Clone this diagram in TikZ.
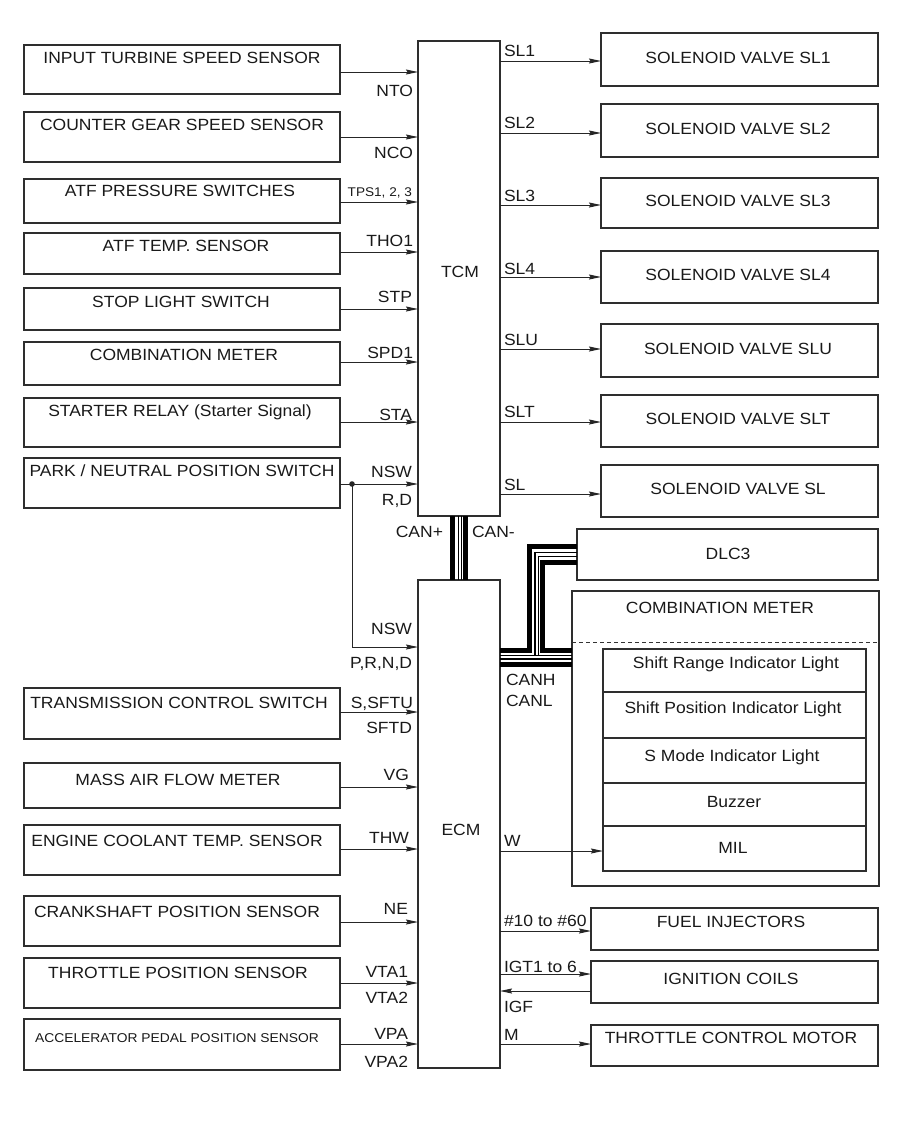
\documentclass[tikz,border=0pt]{standalone}
\usepackage{fontspec}
\setmainfont{Liberation Sans}[FakeStretch=1.08]
\usetikzlibrary{arrows.meta,calc}
% #1 name, #2 top, #3 bottom, #4 text baseline, #5 text x, #6 text, #7 arrow y, #8 target
\newcommand\sensor[8]{%
  \node[box,anchor=north west,minimum width=316pt,minimum height={(#3-#2)*1pt}] (#1) at (24,#2) {};
  \node[txt,anchor=base] (#1t) at (#5,#4) {#6};
  \draw[arr] ([yshift={(#2-#7)*1pt}]#1.north east) coordinate (#1a) -- (#1a -| #8.west);}
% #1 name, #2 left, #3 top, #4 right, #5 bottom
\newcommand\rbox[5]{%
  \node[box,anchor=north west,minimum width={(#4-#2)*1pt},minimum height={(#5-#3)*1pt}] (#1) at (#2,#3) {};}
% output: #1 name, #2 top, #3 bottom, #4 text, #5 arrow y, #6 source
\newcommand\valve[6]{%
  \rbox{#1}{601}{#2}{878}{#3}
  \node[txt] (#1t) at (738,{(#2+#3)/2-2}) {#4};
  \draw[arr] ([yshift={(#2-#5)*1pt}]#1.north west) coordinate (#1a) ++(0,0) (#1a -| #6.east) -- (#1a);}
\begin{document}
\begin{tikzpicture}[x=1pt,y=-1pt,
  font=\fontsize{16.2}{19}\selectfont,
  box/.style={draw=black!82,line width=1.4pt,inner sep=0pt,outer sep=0pt,rectangle,fill=none},
  txt/.style={inner sep=0pt,outer sep=0pt,text=black!90},
  smallf/.style={font=\fontsize{12.6}{14}\selectfont},
  arr/.style={draw=black!85,line width=1pt,-{Stealth[length=12pt,width=5pt,inset=1.5pt]}},
  bthick/.style={line width=5pt,black,line join=miter},
  bthin/.style={line width=1.1pt,black,line join=miter},
]
\path[use as bounding box] (0,0) rectangle (907,1122);

% control units
\rbox{tcm}{418}{41}{500}{516}
\node[txt] (tcmt) at (460,272) {TCM};
\rbox{ecm}{418}{580}{500}{1068}
\node[txt] (ecmt) at (461,830) {ECM};

% TCM inputs
\sensor{in1}{45}{94}{63.5}{182}{INPUT TURBINE SPEED SENSOR}{72}{tcm}
\sensor{in2}{112}{162}{130}{182}{COUNTER GEAR SPEED SENSOR}{137}{tcm}
\sensor{in3}{179}{223}{196}{180}{ATF PRESSURE SWITCHES}{202}{tcm}
\sensor{in4}{233}{274}{251.5}{186}{ATF TEMP. SENSOR}{252}{tcm}
\sensor{in5}{288}{330}{307}{181}{STOP LIGHT SWITCH}{309}{tcm}
\sensor{in6}{342}{385}{360}{184}{COMBINATION METER}{362}{tcm}
\sensor{in7}{398}{447}{416}{180}{STARTER RELAY (Starter Signal)}{422}{tcm}
\sensor{in8}{458}{508}{476}{182}{PARK / NEUTRAL POSITION SWITCH}{484}{tcm}

% ECM inputs
\sensor{in9}{688}{739}{708}{179}{TRANSMISSION CONTROL SWITCH}{712}{ecm}
\sensor{in10}{763}{808}{785}{178}{MASS AIR FLOW METER}{787}{ecm}
\sensor{in11}{825}{875}{846}{177}{ENGINE COOLANT TEMP. SENSOR}{849}{ecm}
\sensor{in12}{896}{946}{917}{177}{CRANKSHAFT POSITION SENSOR}{922}{ecm}
\sensor{in13}{958}{1008}{978}{178}{THROTTLE POSITION SENSOR}{983}{ecm}
\sensor{in14}{1019}{1070}{1042}{177}{\fontsize{12.8}{14}\selectfont ACCELERATOR PEDAL POSITION SENSOR}{1044}{ecm}

% P/N branch to ECM
\coordinate (jn) at (352,484);
\coordinate (pn) at (352,647);
\fill[black!85] (jn) circle (2.8pt);
\draw[arr] (jn) -- (pn) -- (pn -| ecm.west);

% input signal labels
\node[txt,anchor=base east] (lnto) at (413,96) {NTO};
\node[txt,anchor=base east] (lnco) at (413,158) {NCO};
\node[txt,smallf,anchor=base east] (ltps) at (412,196) {TPS1, 2, 3};
\node[txt,anchor=base east] (ltho) at (413,246) {THO1};
\node[txt,anchor=base east] (lstp) at (412,302) {STP};
\node[txt,anchor=base east] (lspd) at (413,358) {SPD1};
\node[txt,anchor=base east] (lsta) at (412,420) {STA};
\node[txt,anchor=base east] (lnsw) at (412,477) {NSW};
\node[txt,anchor=base east] (lrd) at (412,505) {R,D};
\node[txt,anchor=base east] (lnsw2) at (412,634) {NSW};
\node[txt,anchor=base east] (lprnd) at (412,668) {P,R,N,D};
\node[txt,anchor=base east] (lsftu) at (413,708) {S,SFTU};
\node[txt,anchor=base east] (lsftd) at (412,733) {SFTD};
\node[txt,anchor=base east] (lvg) at (409,780) {VG};
\node[txt,anchor=base east] (lthw) at (409,843) {THW};
\node[txt,anchor=base east] (lne) at (408,914) {NE};
\node[txt,anchor=base east] (lvta1) at (408,977) {VTA1};
\node[txt,anchor=base east] (lvta2) at (408,1003) {VTA2};
\node[txt,anchor=base east] (lvpa) at (408,1039) {VPA};
\node[txt,anchor=base east] (lvpa2) at (408,1067) {VPA2};

% solenoid valves
\valve{sl1}{33}{86}{SOLENOID VALVE SL1}{61}{tcm}
\valve{sl2}{104}{157}{SOLENOID VALVE SL2}{133}{tcm}
\valve{sl3}{178}{228}{SOLENOID VALVE SL3}{205}{tcm}
\valve{sl4}{251}{303}{SOLENOID VALVE SL4}{277}{tcm}
\valve{slu}{324}{377}{SOLENOID VALVE SLU}{349}{tcm}
\valve{slt}{395}{447}{SOLENOID VALVE SLT}{422}{tcm}
\valve{slv}{465}{517}{SOLENOID VALVE SL}{494}{tcm}

\node[txt,anchor=base west] (osl1) at (504,56) {SL1};
\node[txt,anchor=base west] (osl2) at (504,128) {SL2};
\node[txt,anchor=base west] (osl3) at (504,201) {SL3};
\node[txt,anchor=base west] (osl4) at (504,274) {SL4};
\node[txt,anchor=base west] (oslu) at (504,345) {SLU};
\node[txt,anchor=base west] (oslt) at (504,417) {SLT};
\node[txt,anchor=base west] (oslv) at (504,490) {SL};

% ECM outputs
\rbox{fuel}{591}{908}{878}{950}
\node[txt] (fuelt) at (731,921.5) {FUEL INJECTORS};
\draw[arr] ([yshift=-23pt]fuel.north west) coordinate (fa) ++(0,0) (fa -| ecm.east) -- (fa);
\rbox{ign}{591}{961}{878}{1003}
\node[txt] (ignt) at (731,978.5) {IGNITION COILS};
\draw[arr] ([yshift=-13pt]ign.north west) coordinate (ia) ++(0,0) (ia -| ecm.east) -- (ia);
\draw[arr] ([yshift=-30pt]ign.north west) coordinate (ib) -- (ib -| ecm.east);
\rbox{thr}{591}{1025}{878}{1066}
\node[txt] (thrt) at (731,1037.5) {THROTTLE CONTROL MOTOR};
\draw[arr] ([yshift=-19pt]thr.north west) coordinate (ta) ++(0,0) (ta -| ecm.east) -- (ta);

\node[txt,anchor=base west] (ofuel) at (504,926) {\#10 to \#60};
\node[txt,anchor=base west] (oigt) at (504,972) {IGT1 to 6};
\node[txt,anchor=base west] (oigf) at (504,1012) {IGF};
\node[txt,anchor=base west] (om) at (504,1040) {M};

% DLC3
\rbox{dlc}{577}{529}{878}{580}
\node[txt] (dlct) at (728,554) {DLC3};

% combination meter
\rbox{cm}{572}{591}{879}{886}
\node[txt] (cmt) at (720,608) {COMBINATION METER};
\coordinate (dsh) at (572,642);
\draw[black!80,line width=1pt,dash pattern=on 4pt off 3pt] (dsh) -- (dsh -| cm.east);
\rbox{cm1}{603}{649}{866}{692}
\rbox{cm2}{603}{692}{866}{738}
\rbox{cm3}{603}{738}{866}{783}
\rbox{cm4}{603}{783}{866}{826}
\rbox{cm5}{603}{826}{866}{871}
\node[txt,anchor=base] (cm1t) at (736,668) {Shift Range Indicator Light};
\node[txt,anchor=base] (cm2t) at (733,713) {Shift Position Indicator Light};
\node[txt,anchor=base] (cm3t) at (732,761) {S Mode Indicator Light};
\node[txt,anchor=base] (cm4t) at (734,807) {Buzzer};
\node[txt,anchor=base] (cm5t) at (733,853) {MIL};
\draw[arr] ([yshift=-25pt]cm5.north west) coordinate (wa) ++(0,0) (wa -| ecm.east) -- (wa);
\node[txt,anchor=base west] (ow) at (504,846) {W};

% CAN between TCM and ECM
\foreach \dx/\st in {-6.5/bthick, -0.7/bthin, 2.3/bthin, 6.2/bthick}
  \draw[\st] ([xshift=\dx pt]tcm.south) -- ([xshift=\dx pt]tcm.south |- ecm.north);
\node[txt,anchor=base east] (lcanp) at (443,537) {CAN+};
\node[txt,anchor=base west] (lcanm) at (472,537) {CAN-};

% CAN bus from ECM to DLC3 and combination meter
\coordinate (o1) at (529,546.7);
\coordinate (o2) at (529,650);
\draw[bthick] (o2 -| ecm.east) -- (o2) -- (o1) -- (o1 -| dlc.west);
\coordinate (i1) at (542.5,562.5);
\coordinate (i2) at (542.5,650);
\draw[bthick] (i1 -| dlc.west) -- (i1) -- (i2) -- (i2 -| cm.west);
\coordinate (t1) at (535,552.5);
\coordinate (t2) at (535,655.7);
\draw[bthin] (t1 -| dlc.west) -- (t1) -- (t2);
\coordinate (u1) at (538.5,556.5);
\coordinate (u2) at (538.5,655.7);
\draw[bthin] (u1 -| dlc.west) -- (u1) -- (u2);
\coordinate (h1) at (500,655.7);
\coordinate (h2) at (500,659);
\coordinate (h3) at (500,664);
\draw[bthin] (h1 -| ecm.east) -- (h1 -| cm.west);
\draw[bthin] (h2 -| ecm.east) -- (h2 -| cm.west);
\draw[bthick] (h3 -| ecm.east) -- (h3 -| cm.west);
\node[txt,anchor=base west] (lcanh) at (506,685) {CANH};
\node[txt,anchor=base west] (lcanl) at (506,706) {CANL};
\end{tikzpicture}
\end{document}
